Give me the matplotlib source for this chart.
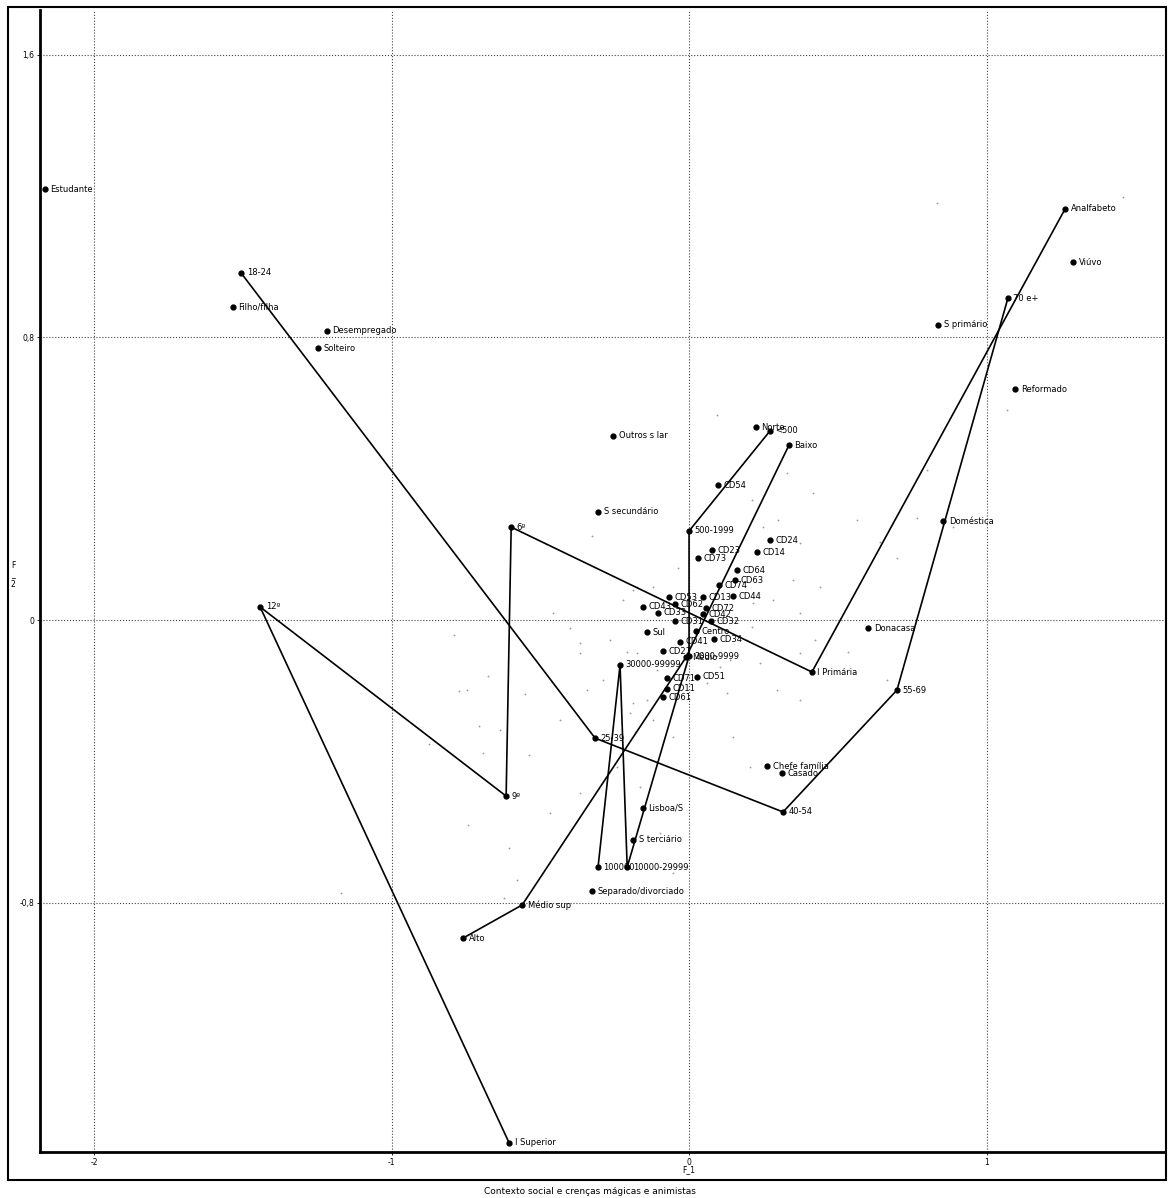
import matplotlib
matplotlib.use("Agg")
import matplotlib.pyplot as plt
from matplotlib.patches import Rectangle
from matplotlib.ticker import FixedLocator, FuncFormatter

# connected category profiles (F1, F2)
idade_lab = ["18-24", "25-39", "40-54", "55-69", "70 e+"]
idade_x = [-1.506, -0.316, 0.316, 0.699, 1.072]
idade_y = [0.982, -0.334, -0.543, -0.198, 0.911]

instr_lab = ["Analfabeto", "I Primária", "6º", "9º", "12º", "I Superior"]
instr_x = [1.264, 0.413, -0.598, -0.615, -1.442, -0.605]
instr_y = [1.163, -0.147, 0.263, -0.498, 0.037, -1.479]

classe_lab = ["Alto", "Médio sup", "Médio", "Baixo"]
classe_x = [-0.760, -0.561, -0.010, 0.336]
classe_y = [-0.900, -0.806, -0.105, 0.495]

habitat_lab = ["<500", "500-1999", "2000-9999", "10000-29999", "30000-99999", "100000"]
habitat_x = [0.272, 0.0, 0.0, -0.208, -0.232, -0.306]
habitat_y = [0.535, 0.252, -0.102, -0.699, -0.127, -0.699]

# isolated categories
cat_lab = ["Estudante", "Filho/filha", "Desempregado", "Solteiro", "Outros s lar",
           "S secundário", "Norte", "CD54", "CD24", "CD23", "CD14", "CD73", "CD64",
           "CD63", "CD74", "CD44", "CD53", "CD13", "CD43", "CD62", "CD72", "CD33",
           "CD42", "CD32", "CD31", "Sul", "Centro", "CD41", "CD34", "CD21", "CD51",
           "CD71", "CD11", "CD61", "Donacasa", "Doméstica", "S primário", "Viúvo",
           "Reformado", "Chefe família", "Casado", "Lisboa/S", "S terciário",
           "Separado/divorciado"]
cat_x = [-2.165, -1.533, -1.217, -1.247, -0.255, -0.306, 0.225, 0.097, 0.272, 0.077,
         0.229, 0.030, 0.161, 0.155, 0.101, 0.148, -0.067, 0.047, -0.155, -0.047,
         0.057, -0.104, 0.047, 0.074, -0.047, -0.141, 0.024, -0.030, 0.084, -0.087,
         0.027, -0.074, -0.074, -0.087, 0.602, 0.854, 0.837, 1.291, 1.096, 0.262,
         0.313, -0.155, -0.188, -0.326]
cat_y = [1.219, 0.885, 0.818, 0.769, 0.521, 0.306, 0.546, 0.382, 0.226, 0.198,
         0.192, 0.175, 0.141, 0.113, 0.099, 0.068, 0.065, 0.065, 0.037, 0.045,
         0.034, 0.020, 0.017, -0.003, -0.003, -0.034, -0.031, -0.062, -0.054, -0.088,
         -0.161, -0.164, -0.195, -0.218, -0.023, 0.280, 0.835, 1.013, 0.653, -0.413,
         -0.433, -0.532, -0.622, -0.767]

# individuals (faint cloud)
ind_x = [0.094, 0.212, 0.299, 0.249, -0.326, -0.037, 0.215, 0.282, 0.350, 0.373,
         0.424, -0.175, -0.222, -0.400, -0.366, -0.266, -0.175, 0.195, 0.239, 0.104,
         0.296, 0.128, 0.061, 0.373, -0.141, -0.198, -0.457, -0.366, -0.289, -0.343,
         -0.434, -0.188, -0.121, -0.054, -0.242, -0.165, -0.366, -0.467, -0.097, -0.054,
         0.148, 0.205, -0.635, -0.746, -0.692, -0.578, 1.459, 0.834, 1.069, 0.329,
         0.417, 0.565, 0.642, 0.699, 0.887, 0.440, 0.534, 0.373, 0.666, 0.800,
         0.766, 0.373, -0.790, -0.676, -0.773, -0.706, -0.551, -0.874, -0.743, -1.170,
         -0.622, -0.605, -0.538, -0.188, -0.121, -0.208, 0.212, 0.138, -0.108]
ind_y = [0.580, 0.339, 0.283, 0.263, 0.238, 0.147, 0.048, 0.057, 0.113, 0.020,
         -0.057, 0.093, 0.057, -0.023, -0.093, -0.057, -0.093, -0.057, -0.122, -0.133,
         -0.198, -0.207, -0.178, -0.226, -0.226, -0.263, 0.020, -0.065, -0.170, -0.198,
         -0.283, -0.235, -0.283, -0.331, -0.416, -0.472, -0.489, -0.546, -0.603, -0.716,
         -0.331, -0.416, -0.311, -0.198, -0.376, -0.736, 1.197, 1.180, 0.594, 0.416,
         0.359, 0.283, 0.221, 0.175, 0.263, 0.093, -0.091, -0.093, -0.170, 0.424,
         0.289, 0.218, -0.042, -0.158, -0.201, -0.300, -0.209, -0.351, -0.580, -0.772,
         -0.786, -0.645, -0.382, 0.085, 0.093, -0.091, -0.020, -0.113, -0.141]

x_ticks = [-2, -1, 0, 1]
y_ticks = [-0.8, 0, 0.8, 1.6]

W, H = 1172, 1198
fig = plt.figure(figsize=(W / 100, H / 100), dpi=100)
ax = fig.add_axes([40 / W, 1 - 1152 / H, (1165 - 40) / W, (1152 - 10) / H])

ax.set_xlim(-2.182, 1.600)
ax.set_ylim(-1.505, 1.726)

ax.plot(ind_x, ind_y, "o", ms=1.3, color="#9a9a9a", mec="none", zorder=1)

for xs, ys, labs in [(idade_x, idade_y, idade_lab),
                     (instr_x, instr_y, instr_lab),
                     (classe_x, classe_y, classe_lab),
                     (habitat_x, habitat_y, habitat_lab)]:
    ax.plot(xs, ys, "-o", color="black", lw=1.2, ms=3.5, zorder=3)
    for x, y, t in zip(xs, ys, labs):
        ax.annotate(t, (x, y), xytext=(4, 0), textcoords="offset points",
                    fontsize=6, va="center", ha="left")

ax.plot(cat_x, cat_y, "o", color="black", ms=3.5, lw=0, zorder=3)
for x, y, t in zip(cat_x, cat_y, cat_lab):
    ax.annotate(t, (x, y), xytext=(4, 0), textcoords="offset points",
                fontsize=6, va="center", ha="left")

ax.xaxis.set_major_locator(FixedLocator(x_ticks))
ax.yaxis.set_major_locator(FixedLocator(y_ticks))
ax.xaxis.set_major_formatter(FuncFormatter(lambda v, p: f"{v:g}"))
ax.yaxis.set_major_formatter(FuncFormatter(lambda v, p: f"{v:g}".replace(".", ",")))
ax.tick_params(labelsize=5.5, length=2, width=0.6, pad=2)
ax.grid(True, linestyle=":", color="#444444", lw=0.8)
ax.set_axisbelow(True)

for s in ["top", "right"]:
    ax.spines[s].set_visible(False)
ax.spines["left"].set_linewidth(2)
ax.spines["bottom"].set_linewidth(2)

fig.patches.append(Rectangle((8 / W, 1 - 1180 / H), (1166 - 8) / W, (1180 - 7) / H,
                             transform=fig.transFigure, fill=False, lw=1.5,
                             edgecolor="black"))

fig.text(689 / W, 1 - 1170 / H, "F_1", fontsize=5.5, ha="center", va="center")
fig.text(13 / W, 1 - 575 / H, "F\n_\n2", fontsize=5.5, ha="center", va="center",
         linespacing=1.1)
fig.text(590 / W, 1 - 1192 / H, "Contexto social e crenças mágicas e animistas",
         fontsize=6.5, ha="center", va="center")

fig.savefig("out.png", dpi=100)
